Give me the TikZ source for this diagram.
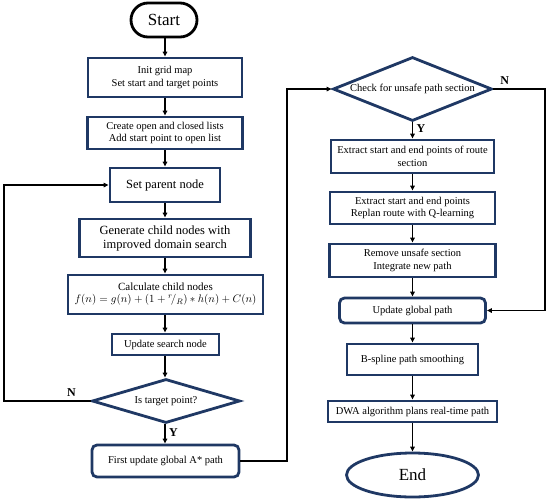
\documentclass[tikz,border=0pt]{standalone}
\usepackage{fontspec}
\setmainfont{Liberation Serif}
\usetikzlibrary{shapes.geometric,arrows.meta}
\definecolor{navy}{HTML}{1F3864}
\tikzset{
  box/.style={draw=navy,line width=2.8pt,rectangle,inner sep=1pt,align=center,font=\fontsize{10.5}{12.5}\selectfont},
  rbox/.style={box,rounded corners=5pt},
  dia/.style={draw=navy,line width=2.8pt,diamond,inner sep=0pt,align=center,font=\fontsize{10.5}{12.5}\selectfont},
  arr/.style={line width=1.5pt,-{Triangle[length=5pt,width=4.5pt]}},
  lbl/.style={font=\bfseries\fontsize{12}{12}\selectfont}
}
\begin{document}
\begin{tikzpicture}[x=1pt,y=-1pt]
\useasboundingbox (0,0) rectangle (550,499);
% left column
\node[draw=black,line width=2.8pt,rectangle,rounded corners=17pt,minimum width=66pt,minimum height=34pt,font=\fontsize{17}{17}\selectfont] (start) at (164,20) {Start};
\node[box,minimum width=154pt,minimum height=39pt] (init) at (165,77.5) {Init grid map\\Set start and target points};
\node[box,minimum width=155pt,minimum height=32pt] (create) at (165,133) {Create open and closed lists\\Add start point to open list};
\node[box,minimum width=110pt,minimum height=34pt,font=\fontsize{12.5}{14}\selectfont] (parent) at (165,185) {Set parent node};
\node[box,minimum width=171pt,minimum height=38pt,font=\fontsize{12.5}{14}\selectfont] (gen) at (165,238) {Generate child nodes with\\improved domain search};
\node[box,minimum width=195pt,minimum height=39pt,font=\fontsize{11}{13}\selectfont] (calc) at (165.5,294.5) {Calculate child nodes\\[-1pt]$f(n)=g(n)+\bigl(1+{}^{r}\!/_{R}\bigr)\ast h(n)+C(n)$};
\node[box,minimum width=107pt,minimum height=21pt] (search) at (165.5,344.5) {Update search node};
\node[dia,minimum width=148pt,minimum height=44pt,aspect=3.36] (target) at (166,401) {Is target point?};
\node[rbox,minimum width=147pt,minimum height=32pt] (astar) at (165.5,461) {First update global A* path};
% right column
\node[dia,minimum width=159pt,minimum height=64pt,aspect=2.48] (check) at (412.5,89) {Check for unsafe path section};
\node[box,minimum width=163pt,minimum height=33pt] (ext1) at (412.5,156.5) {Extract start and end points of route\\section};
\node[box,minimum width=165pt,minimum height=32pt] (ext2) at (412.5,208) {Extract start and end points\\Replan route with Q-learning};
\node[box,minimum width=166pt,minimum height=33pt] (remove) at (412.5,260.5) {Remove unsafe section\\Integrate new path};
\node[rbox,minimum width=146pt,minimum height=25pt] (updg) at (412.5,310.5) {Update global path};
\node[box,minimum width=131pt,minimum height=31pt] (bspl) at (412.5,359.5) {B-spline path smoothing};
\node[box,minimum width=169pt,minimum height=21pt] (dwa) at (412.5,411.5) {DWA algorithm plans real-time path};
\node[draw=navy,line width=2.8pt,ellipse,inner sep=0pt,minimum width=132pt,minimum height=44pt,font=\fontsize{17}{17}\selectfont] (end) at (412.5,475) {End};
% connectors left
\draw[arr] (start.south -| init) -- (init.north);
\draw[arr] (init) -- (create);
\draw[arr] (create) -- (parent);
\draw[arr] (parent) -- (gen);
\draw[arr] (gen) -- (calc.north -| gen);
\draw[arr] (calc.south -| gen) -- (search.north -| gen);
\draw[arr] (search.south -| gen) -- (target.north -| gen);
\draw[arr] (target.south -| gen) -- node[lbl,right,pos=0.45] {Y} (astar.north -| gen);
\coordinate (lc1) at (4,401);
\coordinate (lc2) at (4,185);
\draw[arr] (target.west) -- node[lbl,above,pos=0.22] {N} (lc1) -- (lc2) -- (parent.west);
\coordinate (mc1) at (287,461);
\coordinate (mc2) at (287,89);
\draw[arr] (astar.east) -- (mc1) -- (mc2) -- (check.west);
% connectors right
\draw[arr] (check.south) -- node[lbl,right,pos=0.4] {Y} (ext1.north);
\draw[arr] (ext1) -- (ext2);
\draw[arr] (ext2) -- (remove);
\draw[arr] (remove) -- (updg);
\draw[arr] (updg) -- (bspl);
\draw[arr] (bspl) -- (dwa);
\draw[arr] (dwa) -- (end);
\coordinate (rc1) at (545,89);
\coordinate (rc2) at (545,310.5);
\draw[arr] (check.east) -- node[lbl,above,pos=0.22] {N} (rc1) -- (rc2) -- (updg.east);
\end{tikzpicture}
\end{document}
